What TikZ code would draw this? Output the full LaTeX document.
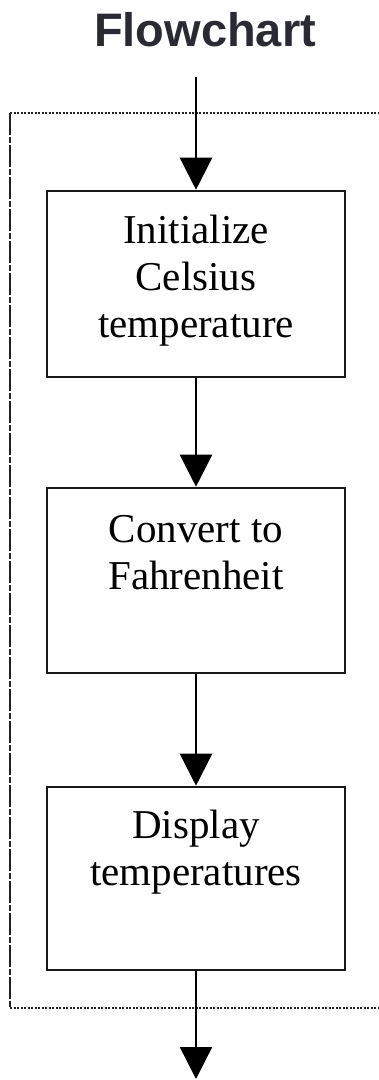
\documentclass[tikz,border=0pt]{standalone}
\usepackage{fontspec}
\setmainfont{Liberation Serif}
\newfontfamily\titlefont{Liberation Sans}
\usetikzlibrary{arrows.meta}
\definecolor{titleink}{HTML}{2A2A33}
\definecolor{frameink}{HTML}{222222}
\begin{document}
\begin{tikzpicture}[x=1pt,y=-1pt,
  stepbox/.style={draw=black!90, line width=2.6pt, minimum width=298pt, inner sep=0pt},
  steptext/.style={anchor=north, inner sep=0pt, align=center, font=\fontsize{41}{47}\selectfont},
  flow/.style={line width=2.4pt, -{Triangle[length=32pt,width=32pt]}},
  framedots/.style={draw=frameink, line width=2.6pt, dash pattern=on 2.2pt off 1.3pt},
  frameside/.style={draw=frameink, line width=2.6pt, dash pattern=on 22pt off 2pt on 6pt off 2pt}]
\useasboundingbox (0,0) rectangle (378,1080);

% title
\node[anchor=base, inner sep=0pt, text=titleink, font=\titlefont\bfseries\fontsize{47}{56}\selectfont] (title) at (205,46) {Flowchart};

% enclosing loop frame
\coordinate (ftl) at (10,113);
\coordinate (ftr) at (378,113);
\coordinate (fbl) at (10,1008);
\coordinate (fbr) at (378,1008);
\draw[framedots] (ftl) -- (ftr);
\draw[framedots] (fbl) -- (fbr);
\draw[frameside] (ftl) -- (fbl);

% process boxes
\node[stepbox, minimum height=186pt] (init) at (196,284) {};
\node[stepbox, minimum height=185pt] (conv) at (196,580.5) {};
\node[stepbox, minimum height=183pt] (disp) at (196,878.5) {};

\node[steptext] (initT) at ([yshift=-25pt]init.north) {Initialize\\Celsius\\temperature};
\node[steptext] (convT) at ([yshift=-28pt]conv.north) {Convert to\\Fahrenheit};
\node[steptext] (dispT) at ([yshift=-24pt]disp.north) {Display\\temperatures};

% connectors
\coordinate (entry) at (196,77);
\coordinate (exit) at (196,1079);
\draw[flow] (entry) -- (init.north);
\draw[flow] (init.south) -- (conv.north);
\draw[flow] (conv.south) -- (disp.north);
\draw[flow] (disp.south) -- (exit);
\end{tikzpicture}
\end{document}
